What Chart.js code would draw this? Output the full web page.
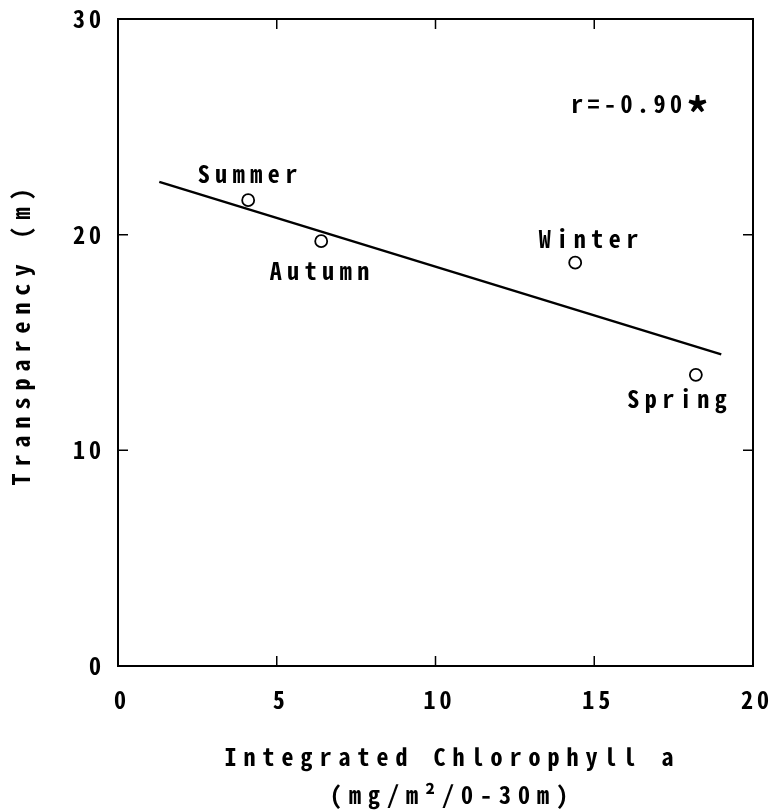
<!DOCTYPE html>
<html><head><meta charset="utf-8">
<script src="https://cdn.jsdelivr.net/npm/chart.js@4/dist/chart.umd.min.js"></script>
<style>html,body{margin:0;padding:0;background:#fff;}</style>
</head><body>
<canvas id="c" width="769" height="811"></canvas>
<script>
const seasons = ['Summer', 'Autumn', 'Winter', 'Spring'];
const chlorophyll = [4.1, 6.4, 14.4, 18.2];
const transparency = [21.6, 19.7, 18.7, 13.5];
const fitX = [1.3, 19.0];
const fitY = [22.45, 14.45];
const xTicks = [0, 5, 10, 15, 20];
const yTicks = [0, 10, 20, 30];
const xTitle = ['Integrated Chlorophyll a', '(mg/m\u00B2/0-30m)'];
const yTitle = 'Transparency (m)';
const rLabel = 'r=-0.90';
const rMark = '*';

const FONT = "'Noto Sans Mono CJK JP', 'Roboto Condensed', sans-serif";
const labelOffsets = { Summer: [2, -26], Autumn: [1, 30], Winter: [16, -24], Spring: [-16, 24] };
const titleShift = { x: [17, 3], y: [0, -9] };

function noPad(s) { s.paddingLeft = 0; s.paddingRight = 0; s.paddingTop = 0; s.paddingBottom = 0; }

const decor = {
  id: 'decor',
  afterLayout(chart) {
    ['x', 'y'].forEach(id => {
      const s = chart.scales[id];
      if (!s || s._shifted) return;
      const orig = s.drawTitle;
      s.drawTitle = function () {
        const c = this.ctx;
        c.save();
        c.translate(titleShift[id][0], titleShift[id][1]);
        orig.call(this);
        c.restore();
      };
      s._shifted = true;
    });
  },
  beforeDraw(chart) { chart.ctx.letterSpacing = '7px'; },
  afterDatasetsDraw(chart) {
    const ctx = chart.ctx;
    const { left, right, top, bottom } = chart.chartArea;
    const xs = chart.scales.x, ys = chart.scales.y;
    ctx.save();
    ctx.strokeStyle = '#000';
    ctx.lineWidth = 1.5;
    ctx.beginPath();
    xs.ticks.forEach(t => {
      const p = xs.getPixelForValue(t.value);
      ctx.moveTo(p, bottom); ctx.lineTo(p, bottom - 10);
      ctx.moveTo(p, top); ctx.lineTo(p, top + 10);
    });
    ys.ticks.forEach(t => {
      const p = ys.getPixelForValue(t.value);
      ctx.moveTo(left, p); ctx.lineTo(left + 10, p);
      ctx.moveTo(right, p); ctx.lineTo(right - 10, p);
    });
    ctx.stroke();
    ctx.restore();
    ctx.letterSpacing = '4px';
  },
  afterDraw(chart) {
    const ctx = chart.ctx;
    const xs = chart.scales.x, ys = chart.scales.y;
    ctx.save();
    ctx.letterSpacing = '5.5px';
    ctx.fillStyle = '#000';
    ctx.font = "bold 24px " + FONT;
    ctx.textAlign = 'center';
    ctx.textBaseline = 'middle';
    seasons.forEach((s, i) => {
      const px = xs.getPixelForValue(chlorophyll[i]);
      const py = ys.getPixelForValue(transparency[i]);
      const o = labelOffsets[s];
      ctx.fillText(s, px + o[0], py + o[1]);
    });
    const ry = ys.getPixelForValue(26.05);
    ctx.textAlign = 'left';
    ctx.letterSpacing = '4.5px';
    ctx.fillText(rLabel, xs.getPixelForValue(14.27), ry);
    ctx.letterSpacing = '0px';
    ctx.textAlign = 'center';
    ctx.font = "bold 44px " + FONT;
    ctx.fillText(rMark, xs.getPixelForValue(18.25), ry + 10);
    ctx.restore();
  }
};

const tickFont = { family: FONT, size: 24, weight: 'bold', lineHeight: 1.2 };

new Chart(document.getElementById('c'), {
  type: 'scatter',
  data: {
    datasets: [
      {
        type: 'line',
        data: fitX.map((x, i) => ({ x: x, y: fitY[i] })),
        borderColor: '#000',
        borderWidth: 2.5,
        pointRadius: 0,
        fill: false,
        tension: 0
      },
      {
        data: chlorophyll.map((x, i) => ({ x: x, y: transparency[i] })),
        pointStyle: 'circle',
        pointRadius: 6,
        backgroundColor: '#fff',
        borderColor: '#000',
        borderWidth: 1.8
      }
    ]
  },
  options: {
    responsive: false,
    animation: false,
    devicePixelRatio: 1,
    layout: { padding: { top: 19, right: 16, left: 0, bottom: 0 } },
    plugins: { legend: { display: false }, tooltip: { enabled: false } },
    scales: {
      x: {
        type: 'linear', position: 'bottom', min: 0, max: 20,
        afterBuildTicks: s => { s.ticks = xTicks.map(v => ({ value: v })); },
        afterFit: s => { s.height = 145; noPad(s); },
        ticks: { font: tickFont, color: '#000', padding: 19, maxRotation: 0, labelOffset: 4, z: 1 },
        grid: { display: false, drawTicks: false },
        border: { display: true, color: '#000', width: 2 },
        title: {
          display: true, text: xTitle, color: '#000',
          font: { family: FONT, size: 24, weight: 'bold', lineHeight: 1.6 },
          padding: { top: 0, bottom: 0 }
        }
      },
      y: {
        type: 'linear', position: 'left', min: 0, max: 30,
        afterBuildTicks: s => { s.ticks = yTicks.map(v => ({ value: v })); },
        afterFit: s => { s.width = 118; noPad(s); },
        ticks: { font: tickFont, color: '#000', padding: 13, z: 1 },
        grid: { display: false, drawTicks: false },
        border: { display: true, color: '#000', width: 2 },
        title: {
          display: true, text: yTitle, color: '#000',
          font: { family: FONT, size: 24, weight: 'bold', lineHeight: 1.2 },
          padding: { top: 6, bottom: 0 }
        }
      },
      x2: {
        type: 'linear', position: 'top', min: 0, max: 20,
        afterFit: s => { s.height = 0; noPad(s); },
        ticks: { display: false },
        grid: { display: false, drawTicks: false },
        border: { display: true, color: '#000', width: 2 }
      },
      y2: {
        type: 'linear', position: 'right', min: 0, max: 30,
        afterFit: s => { s.width = 0; noPad(s); },
        ticks: { display: false },
        grid: { display: false, drawTicks: false },
        border: { display: true, color: '#000', width: 2 }
      }
    }
  },
  plugins: [decor]
});
</script>
</body></html>
